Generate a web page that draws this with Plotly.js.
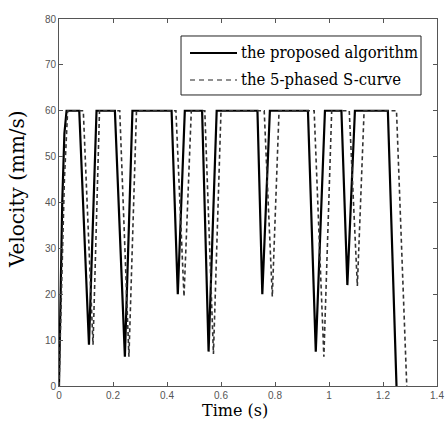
<!DOCTYPE html>
<html>
<head>
<meta charset="utf-8">
<script src="https://cdn.plot.ly/plotly-3.0.1.min.js"></script>
<style>html,body{margin:0;padding:0;background:#fff;}#chart{width:448px;height:431px;}</style>
</head>
<body>
<div id="chart"></div>
<script>
// Proposed algorithm (solid): time (s) / velocity (mm/s) vertices
const proposedTime = [0, 0.006, 0.012, 0.02, 0.028,
  0.075, 0.111, 0.139,
  0.207, 0.244, 0.272,
  0.417, 0.44, 0.466,
  0.530, 0.554, 0.584,
  0.735, 0.753, 0.781,
  0.922, 0.951, 0.985,
  1.046, 1.068, 1.096,
  1.218, 1.25];
const proposedVel = [0, 22, 40, 55, 60,
  60, 9, 60,
  60, 6.4, 60,
  60, 20, 60,
  60, 7.5, 60,
  60, 20, 60,
  60, 7.5, 60,
  60, 22, 60,
  60, 0];

// 5-phased S-curve (dashed)
const sCurveTime = [0, 0.008, 0.02, 0.032,
  0.09, 0.126, 0.15,
  0.225, 0.259, 0.287,
  0.433, 0.463, 0.49,
  0.54, 0.572, 0.60,
  0.76, 0.79, 0.815,
  0.945, 0.981, 1.01,
  1.075, 1.105, 1.13,
  1.25, 1.288];
const sCurveVel = [0, 20, 45, 60,
  60, 9, 60,
  60, 6.4, 60,
  60, 19.5, 60,
  60, 7, 60,
  60, 19.5, 60,
  60, 6.4, 60,
  60, 21.8, 60,
  60, 0];

const seriesNames = ['the proposed algorithm', 'the 5-phased S-curve'];
const xTicks = [0, 0.2, 0.4, 0.6, 0.8, 1, 1.2, 1.4];
const yTicks = [0, 10, 20, 30, 40, 50, 60, 70, 80];
const xTitle = 'Time (s)';
const yTitle = 'Velocity (mm/s)';

const SERIF = 'DejaVu Serif';
const SERIF_C = 'DejaVu Serif Condensed';

const solidStyle = {color: '#000', width: 2.2};
const dashStyle = {color: '#333', width: 1.6, dash: '4px,3px'};

const traces = [
  {x: proposedTime, y: proposedVel, type: 'scatter', mode: 'lines', name: seriesNames[0], line: solidStyle},
  {x: sCurveTime, y: sCurveVel, type: 'scatter', mode: 'lines', name: seriesNames[1], line: dashStyle}
];

const axisCommon = {
  showgrid: false, zeroline: false, showline: true, mirror: 'ticks',
  linecolor: '#555', linewidth: 1, ticks: 'inside', ticklen: 4, tickcolor: '#555',
  tickfont: {family: 'Liberation Sans', size: 10, color: '#555'}
};

// legend box (paper coordinates)
const lg = {x0: 0.3228, x1: 0.9577, y0: 0.793, y1: 0.9537, sx0: 0.3466, sx1: 0.4709, tx: 0.4762, row: [0.9074, 0.8338]};

const layout = {
  width: 448, height: 431,
  margin: {l: 59, r: 11, t: 19, b: 45},
  paper_bgcolor: '#fff', plot_bgcolor: '#fff',
  showlegend: false,
  xaxis: Object.assign({}, axisCommon, {range: [0, 1.4], tickvals: xTicks}),
  yaxis: Object.assign({}, axisCommon, {range: [0, 80], tickvals: yTicks}),
  shapes: [
    {type: 'rect', xref: 'paper', yref: 'paper', x0: lg.x0, x1: lg.x1, y0: lg.y0, y1: lg.y1,
     line: {color: '#222', width: 1}, fillcolor: '#fff', layer: 'above'},
    {type: 'line', xref: 'paper', yref: 'paper', x0: lg.sx0, x1: lg.sx1, y0: lg.row[0], y1: lg.row[0],
     line: {color: '#000', width: 2}, layer: 'above'},
    {type: 'line', xref: 'paper', yref: 'paper', x0: lg.sx0, x1: lg.sx1, y0: lg.row[1], y1: lg.row[1],
     line: {color: '#222', width: 1.2, dash: '5px,4px'}, layer: 'above'}
  ],
  annotations: [
    {xref: 'paper', yref: 'paper', x: lg.tx, y: lg.row[0], xanchor: 'left', yanchor: 'middle', showarrow: false,
     text: seriesNames[0], font: {family: SERIF_C, size: 16.5, color: '#000'}},
    {xref: 'paper', yref: 'paper', x: lg.tx, y: lg.row[1], xanchor: 'left', yanchor: 'middle', showarrow: false,
     text: seriesNames[1], font: {family: SERIF_C, size: 16.5, color: '#000'}},
    {xref: 'paper', yref: 'paper', x: 0.4643, y: -0.0681, xanchor: 'center', yanchor: 'middle', showarrow: false,
     text: xTitle, font: {family: SERIF, size: 16, color: '#000'}},
    {xref: 'paper', yref: 'paper', x: -0.111, y: 0.5368, xanchor: 'center', yanchor: 'middle', showarrow: false,
     textangle: -90, text: yTitle, font: {family: SERIF, size: 20, color: '#000'}}
  ]
};

Plotly.newPlot('chart', traces, layout, {displayModeBar: false, staticPlot: true});
</script>
</body>
</html>
